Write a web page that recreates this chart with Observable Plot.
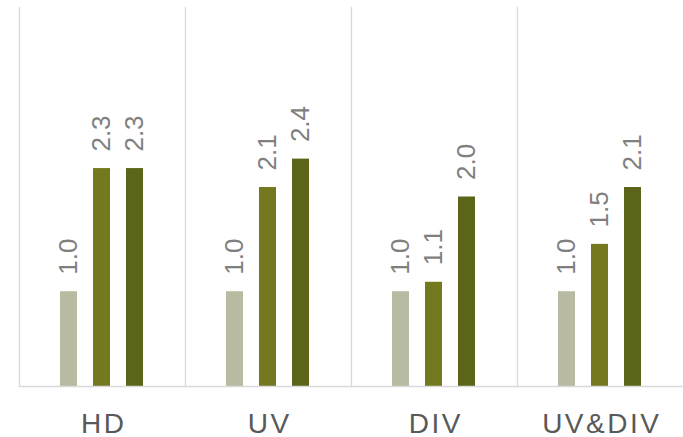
<!DOCTYPE html>
<html>
<head>
<meta charset="utf-8">
<script src="https://cdn.jsdelivr.net/npm/d3@7"></script>
<script src="https://cdn.jsdelivr.net/npm/@observablehq/plot@0.6"></script>
<style>
  html, body { margin: 0; padding: 0; background: #fff; }
  #chart svg { display: block; }
</style>
</head>
<body>
<div id="chart"></div>
<script>
// Groups along the bottom and the three series drawn in each group
const groups = ["HD", "UV", "DIV", "UV&DIV"];
const series = ["base", "variant A", "variant B"];
const colors = ["#b8baa2", "#74781f", "#5c6419"];

// One value per group for each series
const baseValues = [1.0, 1.0, 1.0, 1.0];
const variantAValues = [2.3, 2.1, 1.1, 1.5];
const variantBValues = [2.3, 2.4, 2.0, 2.1];

const valuesBySeries = [baseValues, variantAValues, variantBValues];
const rows = groups.flatMap((g, gi) =>
  series.map((s, si) => ({group: g, series: s, value: valuesBySeries[si][gi]}))
);

const font = "Liberation Sans, Arial, sans-serif";

const chart = Plot.plot({
  width: 683,
  height: 437,
  marginTop: 7,
  marginBottom: 51,
  marginLeft: 19,
  marginRight: 0,
  style: {fontFamily: font, background: "#fff"},
  fx: {domain: groups, padding: 0, axis: null},
  x: {domain: series, paddingInner: 0.47, paddingOuter: 1.18, axis: null},
  y: {domain: [0, 4], axis: null},
  color: {domain: series, range: colors},
  marks: [
    Plot.frame({anchor: "left", stroke: "#d9d9d9", strokeWidth: 1.3}),
    Plot.barY(rows, {fx: "group", x: "series", y: "value", fill: "series"}),
    Plot.ruleY([0], {stroke: "#d9d9d9", strokeWidth: 1.5}),
    Plot.text(rows, {
      fx: "group", x: "series", y: "value",
      text: d => d.value.toFixed(1),
      rotate: -90, textAnchor: "start", lineAnchor: "middle",
      dy: -17, fontSize: 26, fill: "#7f7f7f"
    }),
    Plot.text(groups, {
      fx: d => d, text: d => d,
      frameAnchor: "bottom", lineAnchor: "bottom", dy: 46,
      fontSize: 28, fill: "#595959"
    })
  ]
});

// Spread the letters of the group names a little
d3.select(chart).selectAll("text")
  .filter(function () { return groups.includes(this.textContent); })
  .attr("letter-spacing", 2.5)
  .attr("dx", 1.25);

document.getElementById("chart").appendChild(chart);
</script>
</body>
</html>
